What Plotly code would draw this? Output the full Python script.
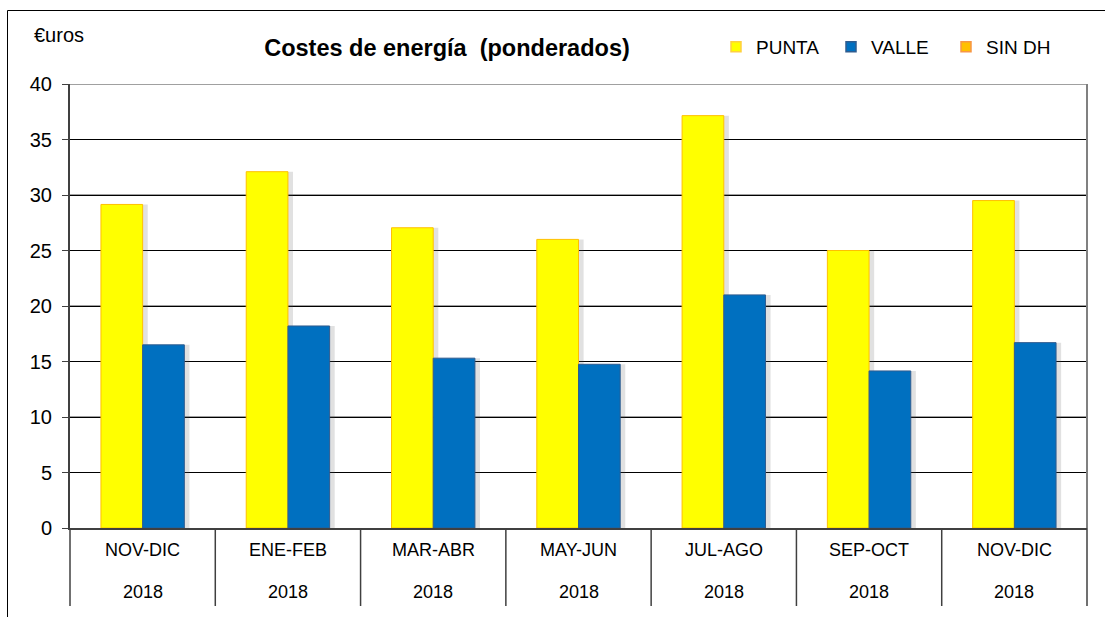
import plotly.graph_objects as go

periods = ["NOV-DIC", "ENE-FEB", "MAR-ABR", "MAY-JUN", "JUL-AGO", "SEP-OCT", "NOV-DIC"]
years = ["2018"] * 7
punta = [29.15, 32.1, 27.05, 26.0, 37.15, 25.0, 29.5]
valle = [16.5, 18.2, 15.3, 14.75, 21.0, 14.15, 16.7]
sin_dh = []  # legend only, no values in this period
y_ticks = [0, 5, 10, 15, 20, 25, 30, 35, 40]

W, H = 1105, 617
L, R, T, B = 70, 18, 84, 89
pw, ph = W - L - R, H - T - B

def px_x(px):
    return (px - L) / pw

def px_y(py):
    return (H - B - py) / ph

n = len(periods)
xs = list(range(n))
bw = 0.287
FONT = "Liberation Sans, Arial, sans-serif"

fig = go.Figure()

# soft shadows behind bars
for vals, off in [(punta, -bw), (valle, 0)]:
    fig.add_trace(go.Bar(x=xs, y=vals, width=bw, offset=off + 0.035,
                         marker=dict(color="rgba(90,90,90,0.18)", line=dict(width=0)),
                         showlegend=False, hoverinfo="skip"))

fig.add_trace(go.Bar(x=xs, y=punta, width=bw, offset=-bw, name="PUNTA",
                     marker=dict(color="#FFFF00", line=dict(color="#FFC000", width=1)),
                     showlegend=False))
fig.add_trace(go.Bar(x=xs, y=valle, width=bw, offset=0, name="VALLE",
                     marker=dict(color="#0070C0", line=dict(color="#2F5C8F", width=1)),
                     showlegend=False))

# legend entries
for name, fill, edge in [("PUNTA", "#FFFF00", "#FFD040"),
                         ("VALLE", "#0070C0", "#2F5C8F"),
                         ("SIN DH", "#FFC000", "#F79646")]:
    fig.add_trace(go.Scatter(x=[None], y=[None], mode="markers", name=name,
                             marker=dict(symbol="square", size=10, color=fill,
                                         line=dict(color=edge, width=1.5))))

shapes = []
# gray lines at multiples of 10 over black grid
for v in y_ticks:
    if v > 0 and v % 10 == 0:
        shapes.append(dict(type="line", xref="paper", yref="y", x0=0, x1=1, y0=v, y1=v,
                           line=dict(color="#808080", width=1.6), layer="below"))
# right border of plot area
shapes.append(dict(type="line", xref="paper", yref="paper", x0=1, x1=1, y0=0, y1=1,
                   line=dict(color="#808080", width=2)))
# category dividers below the axis
for i in range(n + 1):
    shapes.append(dict(type="line", xref="paper", yref="paper", x0=i / n, x1=i / n,
                       y0=0, y1=px_y(606), line=dict(color="#404040", width=1.5)))
# outer chart frame (top and left edges visible)
shapes.append(dict(type="line", xref="paper", yref="paper",
                   x0=px_x(7.5), x1=px_x(1110), y0=px_y(10.5), y1=px_y(10.5),
                   line=dict(color="#000000", width=1)))
shapes.append(dict(type="line", xref="paper", yref="paper",
                   x0=px_x(7.5), x1=px_x(7.5), y0=px_y(10.5), y1=px_y(625),
                   line=dict(color="#000000", width=1)))

annotations = []
for i in range(n):
    annotations.append(dict(x=xs[i], y=0, xref="x", yref="paper", text=periods[i],
                            showarrow=False, yshift=-22, yanchor="middle",
                            font=dict(family=FONT, size=18, color="#000")))
    annotations.append(dict(x=xs[i], y=0, xref="x", yref="paper", text=years[i],
                            showarrow=False, yshift=-64, yanchor="middle",
                            font=dict(family=FONT, size=18, color="#000")))
annotations.append(dict(x=px_x(59), y=px_y(35), xref="paper", yref="paper", text="€uros",
                        showarrow=False, xanchor="center", yanchor="middle",
                        font=dict(family=FONT, size=20, color="#000")))

fig.update_layout(
    width=W, height=H,
    margin=dict(l=L, r=R, t=T, b=B, autoexpand=False),
    paper_bgcolor="white", plot_bgcolor="white",
    barmode="overlay",
    title=dict(text="<b>Costes de energía  (ponderados)</b>", x=447 / W, xanchor="center",
               y=1 - 48 / H, yanchor="middle", xref="container", yref="container",
               font=dict(family=FONT, size=23.5, color="#000")),
    legend=dict(orientation="h", x=px_x(716), y=px_y(47), xanchor="left", yanchor="middle",
                font=dict(family=FONT, size=19, color="#000"), bgcolor="rgba(0,0,0,0)",
                entrywidth=70, itemclick=False),
    xaxis=dict(range=[-0.5, n - 0.5], showticklabels=False, showgrid=False, zeroline=False,
               showline=True, linecolor="#404040", linewidth=2, ticks="", fixedrange=True),
    yaxis=dict(range=[0, 40], tickvals=y_ticks, showgrid=True, gridcolor="#000000", gridwidth=1,
               zeroline=False, showline=True, linecolor="#404040", linewidth=2,
               ticks="outside", ticklen=6, tickcolor="#404040", ticklabelstandoff=6,
               tickfont=dict(family=FONT, size=20, color="#000")),
    shapes=shapes, annotations=annotations,
)

fig.write_html("out.html", config={"displayModeBar": False},
               post_script="document.body.style.margin='0';document.body.style.overflow='hidden';")
